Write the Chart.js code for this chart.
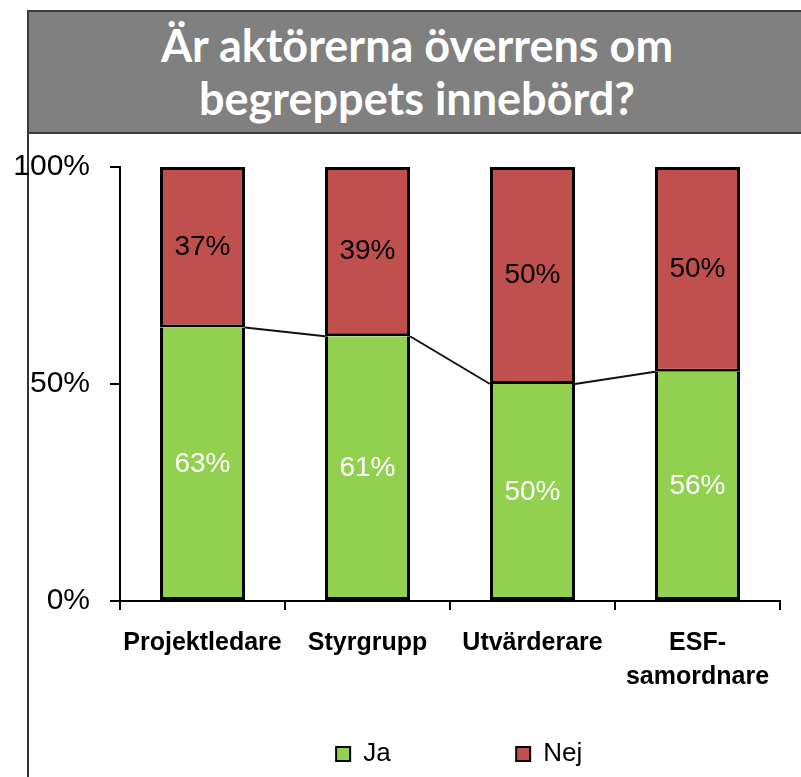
<!DOCTYPE html>
<html>
<head>
<meta charset="utf-8">
<title>Är aktörerna överrens om begreppets innebörd?</title>
<script src="https://cdn.jsdelivr.net/npm/chart.js"></script>
<style>
    html, body { margin: 0; padding: 0; background: #fff; }
    body { width: 801px; height: 777px; position: relative; overflow: hidden; }
    .title-box {
        position: absolute;
        left: 27px;
        top: 10px;
        width: 776px;
        height: 120px;
        background: #808080;
        border: 2px solid #3c3c3c;
        color: #fff;
        font-family: Lato, "Open Sans", sans-serif;
        font-weight: bold;
        font-size: 45px;
        line-height: 53px;
        text-align: center;
        display: flex;
        align-items: center;
        justify-content: center;
    }
    .left-line {
        position: absolute;
        left: 27px;
        top: 133px;
        width: 2px;
        height: 644px;
        background: #333;
    }
    #chart { position: absolute; left: 0; top: 0; }
</style>
</head>
<body>

<div class="left-line"></div>
<div class="title-box"><div>Är aktörerna överrens om<br>begreppets innebörd?</div></div>
<canvas id="chart" width="801" height="777"></canvas>

<script>
    const categories = ['Projektledare', 'Styrgrupp', 'Utvärderare', ['ESF-', 'samordnare']];
    const ja = [63, 61, 50, 56];
    const nej = [37, 39, 50, 50];
    const yTicks = [0, 50, 100];

    // Excel-style 100% stacking: each column is scaled to its own total
    const share = (arr, i) => arr[i] / (ja[i] + nej[i]) * 100;
    const jaShare = ja.map((v, i) => share(ja, i));
    const nejShare = nej.map((v, i) => share(nej, i));

    const FONT = '"Liberation Sans", Arial, sans-serif';
    const nbsp = (n) => '\u00a0'.repeat(n);

    // bar value labels, centred in each segment
    const valueLabels = {
        id: 'valueLabels',
        afterDatasetsDraw(chart) {
            const ctx = chart.ctx;
            ctx.save();
            ctx.font = '28px ' + FONT;
            ctx.textAlign = 'center';
            ctx.textBaseline = 'middle';
            chart.data.datasets.forEach((ds, di) => {
                const meta = chart.getDatasetMeta(di);
                meta.data.forEach((el, i) => {
                    ctx.fillStyle = di === 0 ? '#fff' : '#000';
                    ctx.fillText(ds.raw[i] + '%', el.x, (el.y + el.base) / 2);
                });
            });
            ctx.restore();
        }
    };

    // series lines between the tops of the Ja segments
    const seriesLines = {
        id: 'seriesLines',
        afterDatasetsDraw(chart) {
            const ctx = chart.ctx;
            const bars = chart.getDatasetMeta(0).data;
            ctx.save();
            ctx.strokeStyle = '#111';
            ctx.lineWidth = 2;
            for (let i = 0; i < bars.length - 1; i++) {
                const a = bars[i], b = bars[i + 1];
                ctx.beginPath();
                ctx.moveTo(a.x + a.width / 2, a.y);
                ctx.lineTo(b.x - b.width / 2, b.y);
                ctx.stroke();
            }
            ctx.restore();
        }
    };

    new Chart(document.getElementById('chart'), {
        type: 'bar',
        data: {
            labels: categories,
            datasets: [{
                label: 'Ja',
                data: jaShare,
                raw: ja,
                backgroundColor: '#92D050',
                borderColor: '#000',
                borderWidth: { top: 0, left: 3, right: 3, bottom: 3 },
                borderSkipped: false
            }, {
                label: 'Nej',
                data: nejShare,
                raw: nej,
                backgroundColor: '#C0504D',
                borderColor: '#000',
                borderWidth: 3,
                borderSkipped: false
            }]
        },
        options: {
            responsive: false,
            animation: false,
            layout: { padding: { top: 167, left: 0, right: 21, bottom: 0 } },
            datasets: { bar: { categoryPercentage: 1, barPercentage: 0.515 } },
            scales: {
                x: {
                    stacked: true,
                    afterFit(scale) { scale.height = 130; },
                    grid: { drawOnChartArea: false, tickLength: 9, color: '#000', lineWidth: 2 },
                    border: { color: '#000', width: 2 },
                    ticks: {
                        color: '#000',
                        padding: 16,
                        maxRotation: 0,
                        autoSkip: false,
                        font: { family: FONT, size: 25, weight: 'bold', lineHeight: 1.36 }
                    }
                },
                y: {
                    stacked: true,
                    min: 0,
                    max: 100,
                    afterFit(scale) { scale.width = 120; },
                    afterBuildTicks(scale) { scale.ticks = yTicks.map(v => ({ value: v })); },
                    grid: { drawOnChartArea: false, tickLength: 10, color: '#000', lineWidth: 2 },
                    border: { color: '#000', width: 2 },
                    ticks: {
                        color: '#000',
                        padding: 20,
                        font: { family: FONT, size: 30 },
                        callback: (v) => v + '%'
                    }
                }
            },
            plugins: {
                tooltip: { enabled: false },
                legend: {
                    position: 'bottom',
                    align: 'end',
                    labels: {
                        color: '#000',
                        font: { family: FONT, size: 26 },
                        boxWidth: 14,
                        boxHeight: 14,
                        padding: 10,
                        generateLabels(chart) {
                            const pads = [16, 26];
                            return chart.data.datasets.map((ds, i) => ({
                                text: ds.label + nbsp(pads[i]),
                                fillStyle: ds.backgroundColor,
                                strokeStyle: '#000',
                                lineWidth: 2,
                                datasetIndex: i,
                                hidden: false
                            }));
                        }
                    }
                }
            }
        },
        plugins: [valueLabels, seriesLines]
    });
</script>

</body>
</html>
